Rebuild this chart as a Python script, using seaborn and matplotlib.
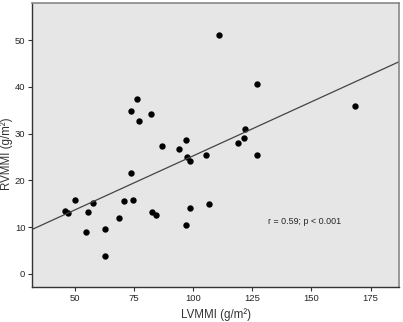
import matplotlib
matplotlib.use("Agg")
import matplotlib.pyplot as plt
import numpy as np
import pandas as pd
import seaborn as sns

# LVMMI vs RVMMI (g/m2)
lvmmi = [76.2, 73.6, 77.1, 82.1, 86.8, 94.0, 96.9, 97.5,
         111.0, 127.1, 168.3, 121.9, 121.3, 118.8, 105.3, 127.1,
         98.7, 73.6, 45.8, 47.0, 49.9, 57.6, 55.7, 54.8,
         62.9, 62.8, 68.7, 70.7, 74.6, 82.6, 84.2, 97.0,
         98.7, 106.7]
rvmmi = [37.5, 34.8, 32.7, 34.2, 27.4, 26.7, 28.6, 25.1,
         51.1, 40.7, 36.0, 31.0, 29.0, 28.1, 25.4, 25.4,
         24.1, 21.6, 13.5, 13.1, 15.7, 15.1, 13.2, 9.0,
         9.5, 3.8, 12.0, 15.5, 15.7, 13.2, 12.5, 10.5,
         14.0, 15.0]
x_ticks = [50, 75, 100, 125, 150, 175]
y_ticks = [0, 10, 20, 30, 40, 50]
stat_text = "r = 0.59; p < 0.001"

df = pd.DataFrame({"LVMMI": lvmmi, "RVMMI": rvmmi})

sns.set_style("ticks")
plt.rcParams['font.family'] = ['Liberation Sans', 'DejaVu Sans']

fig = plt.figure(figsize=(4.03, 3.22), dpi=100)
ax = fig.add_axes([0.080, 0.109, 0.910, 0.882])
ax.set_facecolor("#e6e6e6")
ax.set_xlim(32, 187)
ax.set_ylim(-2.8, 58)

sns.regplot(x="LVMMI", y="RVMMI", data=df, ax=ax, ci=None, truncate=False,
            scatter_kws=dict(color="black", s=21, linewidths=0, alpha=1),
            line_kws=dict(color="#444444", lw=0.9))

ax.text(147, 11.2, stat_text, fontsize=6.4, ha="center", va="center")

ax.set_xticks(x_ticks)
ax.set_yticks(y_ticks)
ax.tick_params(labelsize=6.8, length=3, width=0.8, color="#333333", pad=2)
ax.set_xlabel("LVMMI (g/m²)", fontsize=8.3, color="#333333", labelpad=4)
ax.set_ylabel("RVMMI (g/m²)", fontsize=8.3, color="#333333")
ax.yaxis.set_label_coords(-0.052, 0.47)

for s in ["left", "bottom"]:
    ax.spines[s].set_color("#333333")
    ax.spines[s].set_linewidth(1.0)
for s in ["top", "right"]:
    ax.spines[s].set_color("#888888")
    ax.spines[s].set_linewidth(1.2)

fig.savefig("out.png", dpi=100)
